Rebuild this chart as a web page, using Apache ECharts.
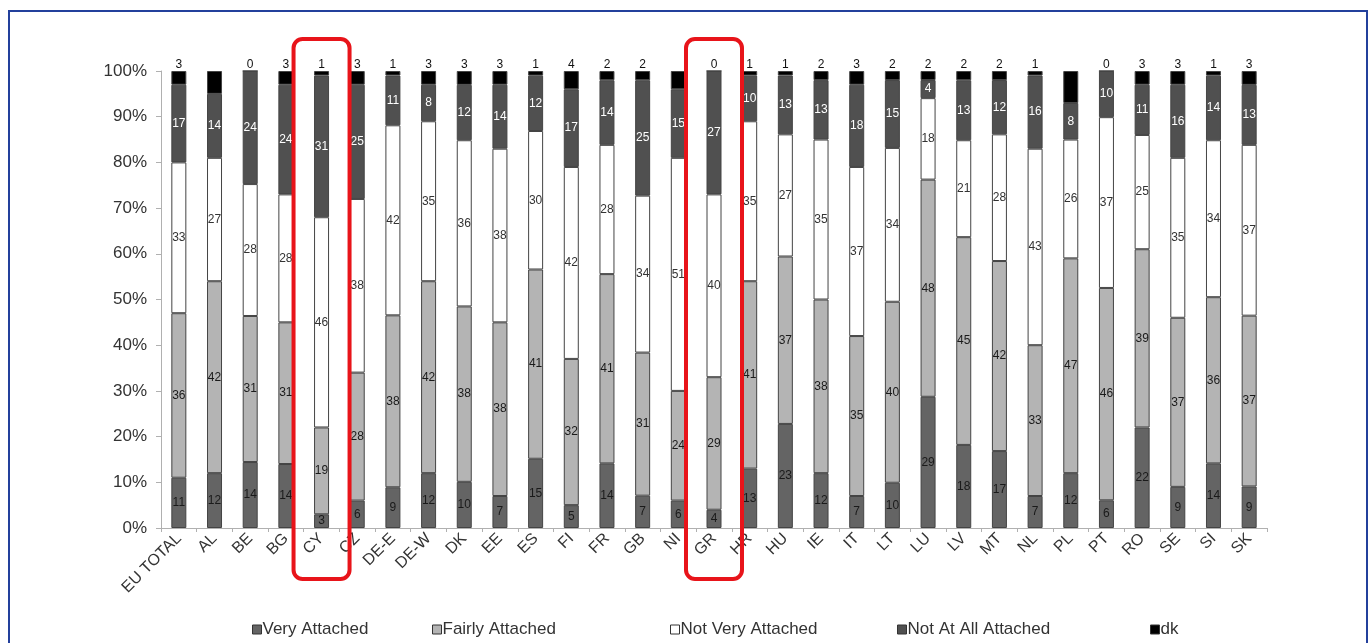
<!DOCTYPE html>
<html>
<head>
<meta charset="utf-8">
<script src="https://cdn.jsdelivr.net/npm/echarts@6/dist/echarts.min.js"></script>
<style>html,body{margin:0;padding:0;background:#fff;}#c{width:1372px;height:643px;}</style>
</head>
<body>
<div id="c"></div>
<script>
const categories = ['EU TOTAL','AL','BE','BG','CY','CZ','DE-E','DE-W','DK','EE','ES','FI','FR','GB','NI','GR','HR','HU','IE','IT','LT','LU','LV','MT','NL','PL','PT','RO','SE','SI','SK'];
const veryAttached   = [11,12,14,14,3,6,9,12,10,7,15,5,14,7,6,4,13,23,12,7,10,29,18,17,7,12,6,22,9,14,9];
const fairlyAttached = [36,42,31,31,19,28,38,42,38,38,41,32,41,31,24,29,41,37,38,35,40,48,45,42,33,47,46,39,37,36,37];
const notVeryAttached= [33,27,28,28,46,38,42,35,36,38,30,42,28,34,51,40,35,27,35,37,34,18,21,28,43,26,37,25,35,34,37];
const notAtAll       = [17,14,24,24,31,25,11,8,12,14,12,17,14,25,15,27,10,13,13,18,15,4,13,12,16,8,10,11,16,14,13];
const dk             = [3,5,0,3,1,3,1,3,3,3,1,4,2,2,4,0,1,1,2,3,2,2,2,2,1,7,0,3,3,1,3];
const hiddenDkLabels = ['AL','NI','PL'];
const highlighted = ['CY','GR'];

const seriesDefs = [
  {name:'Very Attached', data:veryAttached, color:'#646464', label:'#1a1a1a'},
  {name:'Fairly Attached', data:fairlyAttached, color:'#b4b4b4', label:'#1a1a1a'},
  {name:'Not Very Attached', data:notVeryAttached, color:'#ffffff', label:'#333333'},
  {name:'Not At All Attached', data:notAtAll, color:'#505050', label:'#ffffff'},
  {name:'dk', data:dk, color:'#000000', label:'#111111'}
];
const legendLeft = [247, 427, 665, 892, 1145];
const totals = categories.map((c,i)=>seriesDefs.reduce((s,d)=>s+d.data[i],0));

const FONT = 'Liberation Sans, Arial, sans-serif';
const chart = echarts.init(document.getElementById('c'));
const series = seriesDefs.map((d)=>({
  name:d.name, type:'bar', stack:'all', barWidth:15,
  itemStyle:{color:d.color, borderColor:'#444', borderWidth:1},
  label:{
    show:true,
    position: d.name==='dk' ? 'top' : 'inside',
    distance: 0,
    color:d.label, fontSize:12, fontFamily:FONT,
    formatter:(p)=>String(d.data[p.dataIndex])
  },
  data:d.data.map((v,i)=>{
    const item = {value: v/totals[i]*100};
    if (d.name==='dk' && hiddenDkLabels.indexOf(categories[i])>=0) item.label={show:false};
    return item;
  })
}));

chart.setOption({
  animation:false,
  backgroundColor:'#fff',
  textStyle:{fontFamily:FONT},
  grid:{left:161, right:105, top:71, bottom:115},
  legend:seriesDefs.map((d,k)=>({
    top:616, left:legendLeft[k], itemWidth:9, itemHeight:9, icon:'rect', itemGap:0,
    textStyle:{fontSize:17, color:'#333', padding:[0,0,0,-4]},
    data:[{name:d.name, itemStyle:{borderColor:'#333', borderWidth:1}}]
  })),
  xAxis:{
    type:'category', data:categories,
    axisLine:{lineStyle:{color:'#b0b0b0'}},
    axisTick:{show:true, length:4, lineStyle:{color:'#b0b0b0'}},
    axisLabel:{rotate:45, fontSize:16, color:'#333', interval:0, margin:8}
  },
  yAxis:{
    type:'value', min:0, max:100, interval:10,
    axisLine:{show:true, lineStyle:{color:'#b0b0b0'}},
    axisTick:{show:true, inside:false, length:5, lineStyle:{color:'#b0b0b0'}},
    splitLine:{show:false},
    axisLabel:{formatter:'{value}%', fontSize:17, color:'#333', margin:14}
  },
  series:series
});

const boxes = highlighted.map(c=>{
  const x = chart.convertToPixel({xAxisIndex:0}, c);
  return {type:'rect', z:100, shape:{x:x-28, y:39, width:56, height:540, r:9},
    style:{fill:'none', stroke:'#e8141a', lineWidth:4}};
});
boxes.push({type:'rect', z:99, shape:{x:9, y:11, width:1358, height:660},
  style:{fill:'none', stroke:'#23409c', lineWidth:2}});
chart.setOption({graphic:boxes});
</script>
</body>
</html>
